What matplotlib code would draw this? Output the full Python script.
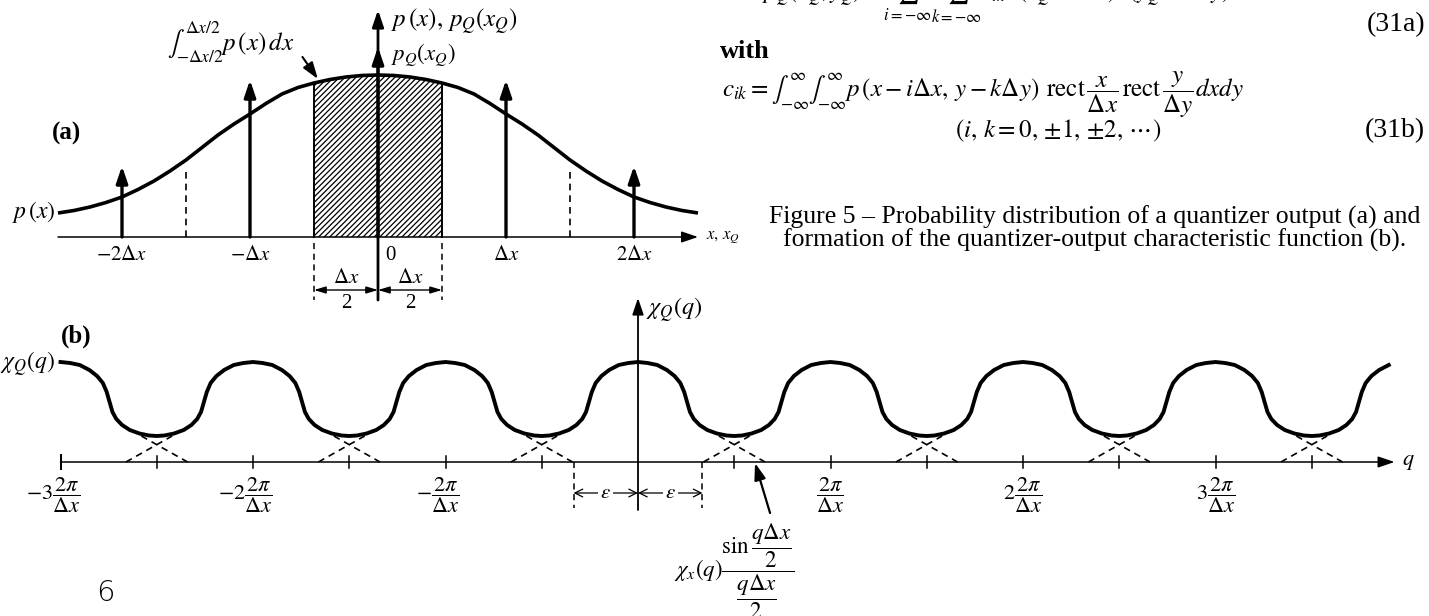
import matplotlib
matplotlib.use("Agg")
import matplotlib.pyplot as plt
import numpy as np

plt.rcParams["font.family"] = ["Liberation Serif", "DejaVu Serif"]
plt.rcParams["mathtext.fontset"] = "stix"
plt.rcParams["hatch.linewidth"] = 0.9

W, H = 1429, 616

# ---- panel (a): input density p(x), x in units of dx
P_X = [-2.5, -2.375, -2.25, -2.125, -2.0, -1.875, -1.75, -1.625, -1.5, -1.375,
       -1.25, -1.125, -1.0, -0.875, -0.75, -0.625, -0.5, -0.375, -0.25, -0.125,
       0.0, 0.125, 0.25, 0.375, 0.5, 0.625, 0.75, 0.875, 1.0, 1.125, 1.25,
       1.375, 1.5, 1.625, 1.75, 1.875, 2.0, 2.125, 2.25, 2.375, 2.5]
P_VAL = [24, 26.5, 30, 34.5, 40, 47.5, 56, 66, 77, 89.5,
         102, 113, 123, 133.5, 143, 149.5, 154, 157.5, 160, 161.5,
         162, 161.5, 160, 157.5, 154, 149.5, 143, 133.5, 123, 113, 102,
         89.5, 77, 66, 56, 47.5, 40, 34.5, 30, 26.5, 24]

# quantizer output impulses p_Q(x_Q)
IMPULSE_X = [-2, -1, 0, 1, 2]
IMPULSE_H = [71, 157, 190, 157, 71]
IMPULSE_LABELS = [r"$-2\Delta x$", r"$-\Delta x$", None, r"$\Delta x$", r"$2\Delta x$"]

# cell boundaries drawn dashed
CELL_EDGE_X = [-1.5, 1.5]
CELL_EDGE_TOP = [70, 70]

# ---- panel (b): characteristic function, q in units of 2*pi/dx
# one half period, from a peak (u=0) to the next minimum (u=0.5)
HALF_U = [0.00, 0.05, 0.10, 0.15, 0.19, 0.22, 0.24, 0.255, 0.27, 0.29,
          0.32, 0.36, 0.41, 0.46, 0.50]
HALF_CHI = [100, 99, 97, 92, 86, 79, 70, 60, 50, 43,
            37, 32, 28.5, 26.5, 26]
PEAKS = [-3, -2, -1, 0, 1, 2, 3, 4]
Q_START, Q_END = -3.0, 3.93

TICK_Q = [-3, -2.5, -2, -1.5, -1, -0.5, 0.5, 1, 1.5, 2, 2.5, 3, 3.5]
LABEL_Q = [-3, -2, -1, 1, 2, 3]
LABEL_TXT = [r"$-3\dfrac{2\pi}{\Delta x}$", r"$-2\dfrac{2\pi}{\Delta x}$",
             r"$-\dfrac{2\pi}{\Delta x}$", r"$\dfrac{2\pi}{\Delta x}$",
             r"$2\dfrac{2\pi}{\Delta x}$", r"$3\dfrac{2\pi}{\Delta x}$"]
MINIMA_Q = [-2.5, -1.5, -0.5, 0.5, 1.5, 2.5, 3.5]
TAIL_BASE, TAIL_TOP, TAIL_H = 0.16, 0.08, 26
EPS = 0.335


def fx(px):
    return px / W


def fy(py):
    return 1 - py / H


def arrow(ax, x0, y0, x1, y1, lw=1.2, style="-|>,head_length=0.5,head_width=0.17",
          scale=20):
    ax.annotate("", xy=(x1, y1), xytext=(x0, y0), annotation_clip=False,
                arrowprops=dict(arrowstyle=style, lw=lw, color="black",
                                shrinkA=0, shrinkB=0, mutation_scale=scale))


fig = plt.figure(figsize=(W / 100, H / 100), dpi=100)

# ================= (a)
ax = fig.add_axes([0, fy(320), 760 / W, 320 / H])
ax.set_xlim(-378 / 128, (760 - 378) / 128)
ax.set_ylim(-83, 237)
ax.axis("off")

px = np.array(P_X)
pv = np.array(P_VAL)
ax.plot(px, pv, color="black", lw=2.6, solid_capstyle="butt", zorder=4)

inside = np.abs(px) <= 0.5
ax.fill_between(px[inside], 0, pv[inside], facecolor="none", edgecolor="black",
                hatch="//////", linewidth=0, zorder=2)
for xe in (-0.5, 0.5):
    ax.plot([xe, xe], [0, pv[px == xe][0]], color="black", lw=1.4, zorder=3)

for xe, top in zip(CELL_EDGE_X, CELL_EDGE_TOP):
    ax.plot([xe, xe], [0, top], color="black", lw=1.2, ls=(0, (4, 3)))

# axes
arrow(ax, -2.5, 0, 2.5, 0, lw=1.1)
arrow(ax, 0, -63, 0, 227, lw=2.0)
ax.text(2.56, 0, r"$x,\,x_Q$", fontsize=12, ha="left", va="center")

for xi, hi, lab in zip(IMPULSE_X, IMPULSE_H, IMPULSE_LABELS):
    arrow(ax, xi, 0, xi, hi, lw=2.4)
    if lab:
        ax.text(xi, -19, lab, fontsize=15, ha="center", va="center")
ax.text(0.06, -19, "0", fontsize=15, ha="left", va="center")

# dx/2 dimension marks
for xe in (-0.5, 0.5):
    ax.plot([xe, xe], [-6, -63], color="black", lw=1.1, ls=(0, (4, 3)))
for a, b in ((-0.5, 0), (0, 0.5)):
    arrow(ax, a, -53, b, -53, lw=1.0, style="<|-|>,head_length=0.5,head_width=0.15",
          scale=14)
    ax.text((a + b) / 2, -42, r"$\Delta x$", fontsize=15, ha="center", va="center")
    ax.text((a + b) / 2, -67, "2", fontsize=15, ha="center", va="center")

ax.text(-2.52, 25, r"$p\,(x)$", fontsize=17, ha="right", va="center")
ax.text(-2.55, 104, "(a)", fontsize=18, fontweight="bold", ha="left", va="center")
ax.text(0.1, 215, r"$p\,(x),\,p_Q(x_Q)$", fontsize=18, ha="left", va="center")
ax.text(0.1, 182, r"$p_Q(x_Q)$", fontsize=16.5, ha="left", va="center")
ax.text(-1.15, 195, r"$\int_{-\Delta x/2}^{\Delta x/2}p\,(x)\,dx$", fontsize=18,
        ha="center", va="center")
arrow(ax, -0.59, 180, -0.47, 158, lw=1.5)

# ================= (b)
bx = fig.add_axes([0, 0, 1, 336 / H])
bx.set_xlim(-638 / 192.5, (W - 638) / 192.5)
bx.set_ylim(-154, 182)
bx.axis("off")
for a in (ax, bx):
    a.patch.set_alpha(0)

hu = np.array(HALF_U)
hc = np.array(HALF_CHI)
u_period = np.concatenate([-hu[::-1], hu[1:]])
c_period = np.concatenate([hc[::-1], hc[1:]])
qs, cs = [], []
for n in PEAKS:
    q = n + u_period
    keep = (q >= Q_START) & (q <= Q_END)
    qs.append(q[keep])
    cs.append(c_period[keep])
bx.plot(np.concatenate(qs), np.concatenate(cs), color="black", lw=2.8, zorder=4)

# overlapping sinc tails at each minimum
for m in MINIMA_Q:
    bx.plot([m - TAIL_BASE, m + TAIL_TOP], [0, TAIL_H], color="black", lw=1.2,
            ls=(0, (4, 3)))
    bx.plot([m - TAIL_TOP, m + TAIL_BASE], [TAIL_H, 0], color="black", lw=1.2,
            ls=(0, (4, 3)))

arrow(bx, -3, 0, 3.93, 0, lw=1.1)
bx.plot([-3, -3], [-7, 7], color="black", lw=1.4)
for t in TICK_Q:
    bx.plot([t, t], [-6, 6], color="black", lw=1.1)
for q, lab in zip(LABEL_Q, LABEL_TXT):
    off = -0.04 if q < 0 else 0.0
    bx.text(q + off, -13, lab, fontsize=16, ha="center", va="top")
bx.text(3.97, 0, r"$q$", fontsize=16, fontweight="bold", ha="left", va="center")

arrow(bx, 0, -48, 0, 164, lw=1.3)
bx.text(0.04, 152, r"$\chi_Q(q)$", fontsize=17.5, ha="left", va="center")

for xe in (-EPS, EPS):
    bx.plot([xe, xe], [0, -46], color="black", lw=1.1, ls=(0, (4, 3)))
for a, b in ((-EPS, 0), (0, EPS)):
    arrow(bx, (a + b) / 2, -31, a, -31, lw=0.9, style="->,head_length=0.4,head_width=0.2",
          scale=14)
    arrow(bx, (a + b) / 2, -31, b, -31, lw=0.9, style="->,head_length=0.4,head_width=0.2",
          scale=14)
    bx.text((a + b) / 2, -31, r"$\epsilon$", fontsize=15, ha="center", va="center",
            bbox=dict(facecolor="white", edgecolor="none", pad=1.5))

bx.text(-3.0, 126, "(b)", fontsize=18, fontweight="bold", ha="left", va="center")
bx.text(-3.03, 98, r"$\chi_Q(q)$", fontsize=17, ha="right", va="center")

arrow(bx, 0.686, -51, 0.608, -1, lw=1.6)
bx.text(0.50, -109,
        r"$\chi_x(q)\dfrac{\sin\dfrac{q\Delta x}{2}}{\dfrac{q\Delta x}{2}}$",
        fontsize=16.5, ha="center", va="center")

# ================= equations and caption
fig.text(fx(762), fy(-1),
         r"$p_Q(x_Q,y_Q)=\sum_{i=-\infty}^{\infty}\sum_{k=-\infty}^{\infty}"
         r"c_{ik}\,\delta(x_Q-i\Delta x)\,\delta(y_Q-k\Delta y)$",
         fontsize=17, ha="left", va="baseline")
fig.text(fx(1425), fy(31), "(31a)", fontsize=20, ha="right", va="baseline")
fig.text(fx(720), fy(58), "with", fontsize=19, fontweight="bold", ha="left",
         va="baseline")
fig.text(fx(722), fy(97),
         r"$c_{ik}=\int_{-\infty}^{\infty}\int_{-\infty}^{\infty}"
         r"p\,(x-i\Delta x,\,y-k\Delta y)\;\,\mathrm{rect}\,\dfrac{x}{\Delta x}"
         r"\,\mathrm{rect}\,\dfrac{y}{\Delta y}dxdy$",
         fontsize=18, ha="left", va="baseline")
fig.text(fx(955), fy(137), r"$(i,\,k=0,\,{\pm}1,\,{\pm}2,\,\cdots)$", fontsize=18,
         ha="left", va="baseline")
fig.text(fx(1425), fy(137), "(31b)", fontsize=20, ha="right", va="baseline")

fig.text(fx(1095), fy(224),
         "Figure 5 \u2013 Probability distribution of a quantizer output (a) and",
         fontsize=18.5, ha="center", va="baseline")
fig.text(fx(1095), fy(247),
         "formation of the quantizer-output characteristic function (b).",
         fontsize=18.5, ha="center", va="baseline")

fig.text(fx(105), fy(593), "6", fontsize=21, family="DejaVu Sans",
         fontweight="light", ha="center", va="center")

fig.savefig("out.png", dpi=100)
